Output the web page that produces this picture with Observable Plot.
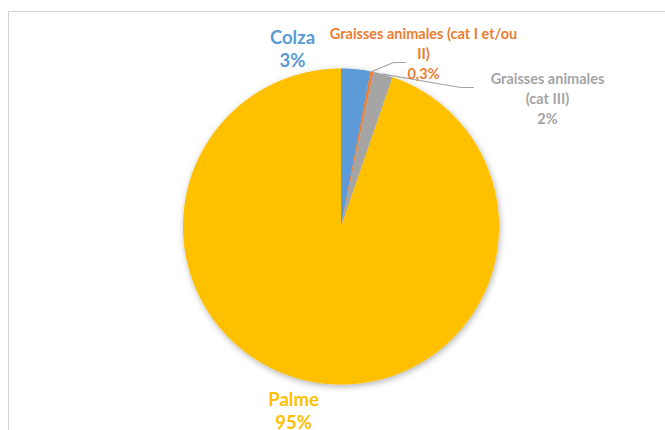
<!DOCTYPE html>
<html>
<head>
<meta charset="utf-8">
<script src="https://cdn.jsdelivr.net/npm/d3@7"></script>
<script src="https://cdn.jsdelivr.net/npm/@observablehq/plot@0.6"></script>
<style>
  html, body { margin: 0; padding: 0; background: #fff; }
  #wrap { position: relative; width: 665px; height: 430px; overflow: hidden; }
  #border { position: absolute; left: 8px; top: 11px; width: 720px; height: 500px;
            border-left: 1px solid #d4d4d4; border-top: 1px solid #d4d4d4; }
  #chart { position: absolute; left: 0; top: 0; }
</style>
</head>
<body>
<div id="wrap"><div id="border"></div><div id="chart"></div></div>
<script>
// Feedstock shares (percent), clockwise from 12 o'clock
const categories = ["Colza", "Graisses animales (cat I et/ou II)", "Graisses animales (cat III)", "Palme"];
const shares = [3, 0.3, 2, 95];
const valueLabels = ["3%", "0,3%", "2%", "95%"];
const palette = ["#5B9BD5", "#ED7D31", "#A5A5A5", "#FFC000"];

// Pixel geometry of the pie
const cx = 340.5, cy = 226, R = 158;
const W = 665, H = 430;
const ux = (px) => (px - cx) / R;   // pixel -> unit coordinates
const uy = (py) => (cy - py) / R;

// Label placement: block centre (px), wrap width (chars), font size, line height, optional leader
const layout = [
  {x: 292, y: 47.5, wrap: 40, size: 18.5, lh: 1.24},
  {x: 423, y: 52, wrap: 30, size: 14.5, lh: 1.41, elbow: [393, 62], end: [405, 62]},
  {x: 547, y: 97, wrap: 17, size: 14.5, lh: 1.38, elbow: [460, 87], end: [473, 87]},
  {x: 293, y: 410, wrap: 40, size: 18.5, lh: 1.24}
];

function wrap(text, width) {
  const words = text.split(" "), lines = [];
  let cur = "";
  for (const w of words) {
    if (cur && (cur + " " + w).length > width) { lines.push(cur); cur = w; }
    else cur = cur ? cur + " " + w : w;
  }
  if (cur) lines.push(cur);
  return lines.join("\n");
}

const arcs = d3.pie().sort(null).value((d) => d.share)(
  categories.map((c, i) => ({category: c, share: shares[i], label: valueLabels[i], i}))
);

// Slice outlines as closed polygons in unit coordinates
const slicePts = [];
for (const a of arcs) {
  const c = a.data.category;
  slicePts.push({category: c, x: 0, y: 0});
  const n = Math.max(2, Math.ceil((a.endAngle - a.startAngle) / 0.005));
  for (let k = 0; k <= n; ++k) {
    const t = a.startAngle + (a.endAngle - a.startAngle) * k / n;
    slicePts.push({category: c, x: Math.sin(t), y: Math.cos(t)});
  }
  slicePts.push({category: c, x: 0, y: 0});
}

// Leader lines from slice mid-angle to the label
const leaderPts = [];
arcs.forEach((a, i) => {
  const L = layout[i];
  if (!L.elbow) return;
  const m = (a.startAngle + a.endAngle) / 2;
  leaderPts.push({k: i, x: Math.sin(m), y: Math.cos(m)});
  leaderPts.push({k: i, x: ux(L.elbow[0]), y: uy(L.elbow[1])});
  leaderPts.push({k: i, x: ux(L.end[0]), y: uy(L.end[1])});
});

const labels = arcs.map((a, i) => ({
  category: a.data.category,
  text: wrap(a.data.category, layout[i].wrap) + "\n" + a.data.label,
  x: ux(layout[i].x), y: uy(layout[i].y), L: layout[i]
}));

const svg = Plot.plot({
  width: W, height: H,
  margin: 0,
  x: {domain: [-1, 1], range: [cx - R, cx + R], axis: null},
  y: {domain: [-1, 1], range: [cy + R, cy - R], axis: null},
  color: {domain: categories, range: palette},
  style: {background: "transparent", overflow: "visible"},
  marks: [
    Plot.line(slicePts, {x: "x", y: "y", z: "category", fill: "category", stroke: null, curve: "linear"}),
    Plot.line(leaderPts, {x: "x", y: "y", z: "k", stroke: "#A5A5A5", strokeWidth: 1.2}),
    ...labels.map((d) => Plot.text([d], {
      x: "x", y: "y", text: "text", fill: "category",
      fontSize: d.L.size, lineHeight: d.L.lh, lineAnchor: "middle",
      fontFamily: "Lato, 'Open Sans', sans-serif", fontWeight: "bold"
    }))
  ]
});

// Soft outer shadow under the pie
const defs = d3.select(svg).insert("defs", ":first-child");
const f = defs.append("filter").attr("id", "pie-shadow")
  .attr("x", "-20%").attr("y", "-20%").attr("width", "140%").attr("height", "140%");
f.append("feDropShadow").attr("dx", 1).attr("dy", 2).attr("stdDeviation", 3)
  .attr("flood-color", "#000").attr("flood-opacity", 0.3);
d3.select(svg).select('g[aria-label="line"]').attr("filter", "url(#pie-shadow)");

document.getElementById("chart").appendChild(svg);
</script>
</body>
</html>
